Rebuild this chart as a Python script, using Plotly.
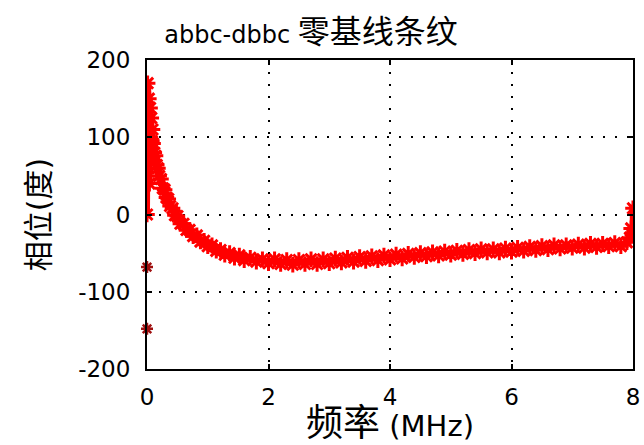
import plotly.graph_objects as go

# Baseline fringe phase, abbc-dbbc, frequency in MHz and phase in degrees
freq_mhz = [
    0.00, 0.01, 0.02, 0.03, 0.04, 0.05, 0.06, 0.07, 0.08, 0.09,
    0.10, 0.12, 0.14, 0.16, 0.18, 0.20, 0.23, 0.26, 0.29, 0.32,
    0.35, 0.38, 0.42, 0.46, 0.50, 0.55, 0.60, 0.65, 0.70, 0.76,
    0.82, 0.88, 0.94, 1.00, 1.07, 1.14, 1.21, 1.28, 1.36, 1.44,
    1.52, 1.60, 1.70, 1.80, 1.90, 2.00,
    2.1, 2.2, 2.3, 2.4, 2.5, 2.6, 2.7, 2.8, 2.9, 3.0,
    3.1, 3.2, 3.3, 3.4, 3.5, 3.6, 3.7, 3.8, 3.9, 4.0,
    4.1, 4.2, 4.3, 4.4, 4.5, 4.6, 4.7, 4.8, 4.9, 5.0,
    5.1, 5.2, 5.3, 5.4, 5.5, 5.6, 5.7, 5.8, 5.9, 6.0,
    6.1, 6.2, 6.3, 6.4, 6.5, 6.6, 6.7, 6.8, 6.9, 7.0,
    7.1, 7.2, 7.3, 7.4, 7.5, 7.6, 7.7, 7.8, 7.9,
    7.95, 7.97, 7.99, 8.00,
]
phase_deg = [
    0, 170, 60, 150, 40, 138, 70, 125, 95, 110,
    92, 80, 76, 64, 60, 50, 46, 34, 32, 22,
    20, 11, 8, -1, -2, -12, -12, -20, -20, -28,
    -27, -35, -34, -41, -40, -47, -46, -52, -50, -56,
    -53, -59, -56, -61, -58, -63,
    -58, -64, -59, -65, -59, -64, -58, -64, -58, -63,
    -57, -62, -56, -61, -55, -60, -54, -59, -53, -58,
    -52, -57, -51, -55, -50, -54, -49, -53, -48, -52,
    -47, -51, -46, -50, -45, -49, -45, -49, -44, -48,
    -43, -47, -42, -46, -41, -45, -40, -44, -40, -43,
    -39, -43, -38, -42, -38, -41, -37, -41, -36,
    -30, -18, -26, 8,
]

# Isolated samples sitting on the zero-frequency edge
edge_freq_mhz = [0, 0]
edge_phase_deg = [-148, -68]

x_ticks = [0, 2, 4, 6, 8]
y_ticks = [-200, -100, 0, 100, 200]

font_family = "DejaVu Sans, Noto Sans CJK SC, sans-serif"

fig = go.Figure()
fig.add_trace(go.Scatter(
    x=freq_mhz, y=phase_deg, mode="lines+markers",
    line=dict(color="#ff0000", width=6),
    marker=dict(symbol="asterisk-open", size=13, color="#ff0000",
                line=dict(color="#ff0000", width=3)),
    showlegend=False,
))
fig.add_trace(go.Scatter(
    x=edge_freq_mhz, y=edge_phase_deg, mode="markers",
    marker=dict(symbol="asterisk-open", size=10, color="#a01010",
                line=dict(color="#a01010", width=2.5)),
    showlegend=False, cliponaxis=False,
))

axis_common = dict(
    showline=True, linecolor="black", linewidth=2, mirror="ticks",
    ticks="inside", ticklen=5, tickwidth=1.5, tickcolor="black",
    showgrid=True, gridcolor="black", gridwidth=1.5, griddash="2px,10px",
    zeroline=False, automargin=False,
    tickfont=dict(family=font_family, size=23, color="black"),
)

fig.update_xaxes(
    range=[0, 8], tickvals=x_ticks, ticktext=[str(v) for v in x_ticks],
    title=dict(text="<span style='font-size:37px'>频率</span> (MHz)",
               font=dict(family=font_family, size=29, color="black"), standoff=13),
    ticklabelstandoff=6,
    **axis_common,
)
fig.update_yaxes(
    range=[-200, 200], tickvals=y_ticks, ticktext=[str(v) for v in y_ticks],
    title=dict(text="相位(度)", font=dict(family=font_family, size=30, color="black"), standoff=20),
    ticklabelstandoff=10,
    **axis_common,
)

fig.update_layout(
    width=644, height=445,
    margin=dict(l=147, r=11, t=60, b=76),
    paper_bgcolor="white", plot_bgcolor="white",
    title=dict(
        text="abbc-dbbc <span style='font-size:32px'>零基线条纹</span>",
        font=dict(family=font_family, size=24, color="black"),
        x=0.483, xanchor="center", y=0.922, yanchor="middle",
    ),
)

fig.write_html("out.html")
